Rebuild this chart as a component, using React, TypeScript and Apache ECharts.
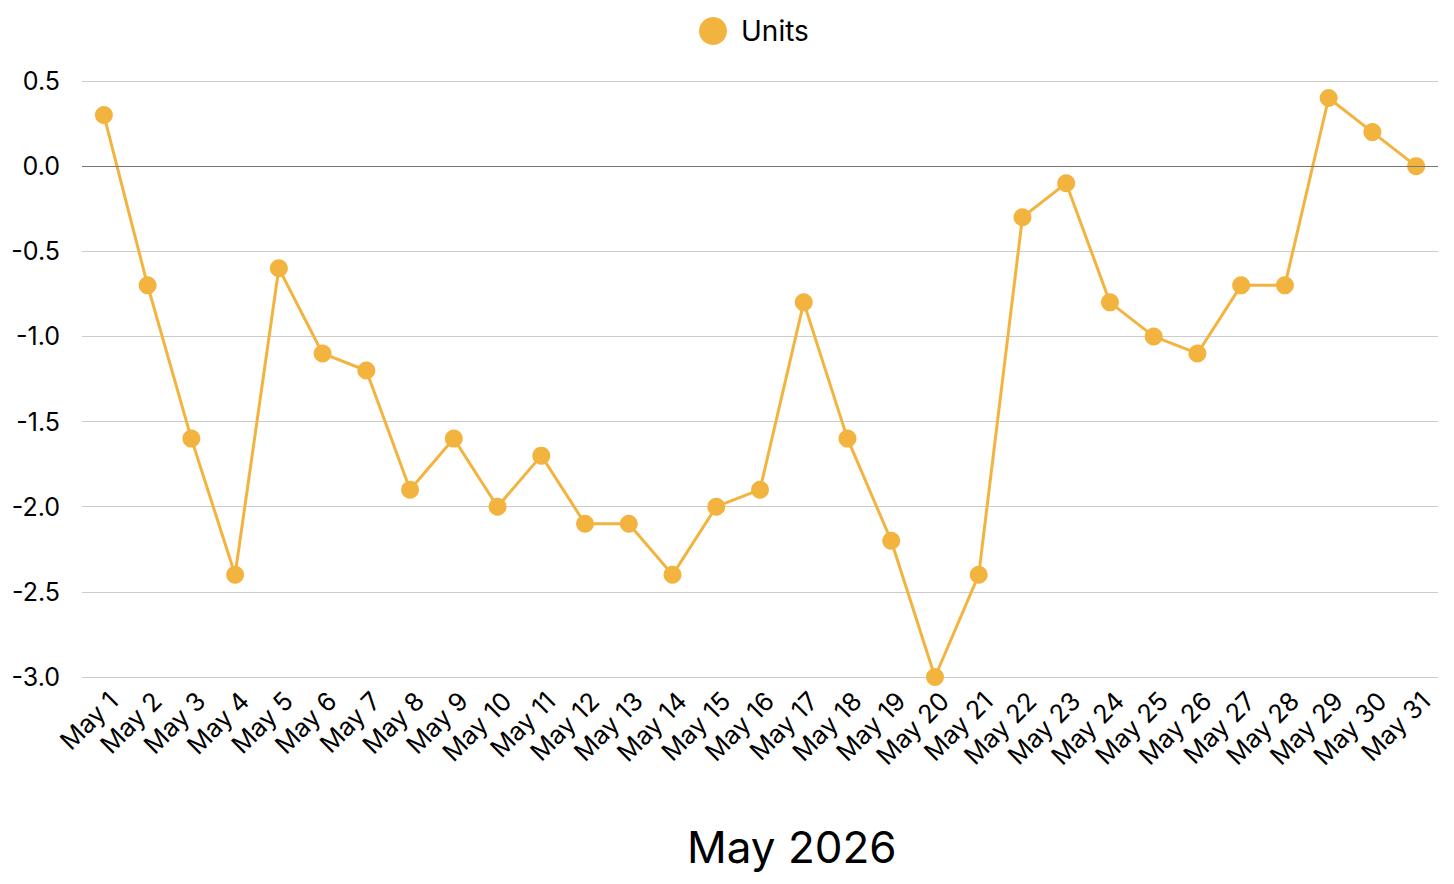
import { useEffect, useRef } from "react";
import * as echarts from "echarts";

const days = [
  "May 1", "May 2", "May 3", "May 4", "May 5", "May 6", "May 7", "May 8", "May 9", "May 10",
  "May 11", "May 12", "May 13", "May 14", "May 15", "May 16", "May 17", "May 18", "May 19", "May 20",
  "May 21", "May 22", "May 23", "May 24", "May 25", "May 26", "May 27", "May 28", "May 29", "May 30", "May 31",
];

const units = [
  0.3, -0.7, -1.6, -2.4, -0.6, -1.1, -1.2, -1.9, -1.6, -2.0,
  -1.7, -2.1, -2.1, -2.4, -2.0, -1.9, -0.8, -1.6, -2.2, -3.0,
  -2.4, -0.3, -0.1, -0.8, -1.0, -1.1, -0.7, -0.7, 0.4, 0.2, 0.0,
];

const FONT = "Inter, 'Liberation Sans', sans-serif";
const LINE_COLOR = "#F3B43F";

export default function App() {
  const containerRef = useRef<HTMLDivElement>(null);

  useEffect(() => {
    document.body.style.margin = "0";
    const container = containerRef.current;
    if (!container) return;
    const chart = echarts.init(container, undefined, { renderer: "svg" });

    const option: echarts.EChartsOption = {
      animation: false,
      textStyle: { fontFamily: FONT },
      title: {
        text: "May 2026",
        left: 682,
        top: 820,
        textStyle: { fontFamily: FONT, fontSize: 44, fontWeight: "normal", color: "#000" },
      },
      legend: {
        top: 12,
        left: 694,
        icon: "circle",
        itemWidth: 28,
        itemHeight: 28,
        textStyle: { fontFamily: FONT, fontSize: 28, color: "#000", padding: [0, 0, 0, 9] },
        data: ["Units"],
      },
      grid: { left: 82, right: 16, top: 81, bottom: 207, containLabel: false },
      xAxis: {
        type: "category",
        data: days,
        boundaryGap: true,
        axisLine: { show: false, onZero: false },
        axisTick: { show: false },
        splitLine: { show: false },
        axisLabel: {
          rotate: 45,
          interval: 0,
          margin: 10,
          fontSize: 25.5,
          color: "#000",
          fontFamily: FONT,
          verticalAlign: "top",
        },
      },
      yAxis: {
        type: "value",
        min: -3,
        max: 0.5,
        interval: 0.5,
        axisLine: { show: false },
        axisTick: { show: false },
        axisLabel: {
          margin: 22,
          fontSize: 25,
          color: "#000",
          fontFamily: FONT,
          formatter: (v: number) => v.toFixed(1),
        },
        splitLine: { lineStyle: { color: "#cccccc", width: 1 } },
      },
      series: [
        {
          name: "Units",
          type: "line",
          data: units,
          symbol: "circle",
          symbolSize: 18,
          showAllSymbol: true,
          itemStyle: { color: LINE_COLOR },
          lineStyle: { color: LINE_COLOR, width: 3 },
          markLine: {
            silent: true,
            symbol: "none",
            label: { show: false },
            lineStyle: { color: "#777777", type: "solid", width: 1 },
            data: [{ yAxis: 0 }],
          },
          z: 3,
        },
      ],
    };

    chart.setOption(option);
    return () => chart.dispose();
  }, []);

  return <div ref={containerRef} style={{ width: 1454, height: 884 }} />;
}
